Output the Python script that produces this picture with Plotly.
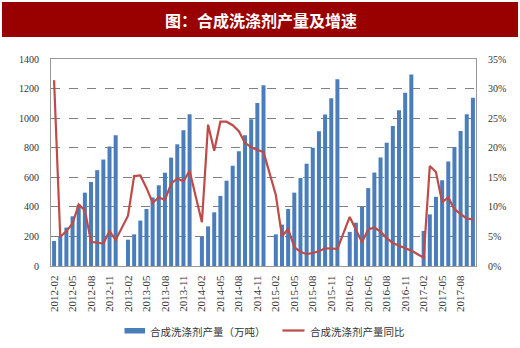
import plotly.graph_objects as go

# ---- data ----
years = [2012, 2013, 2014, 2015, 2016, 2017]
production = {  # 万吨, Feb..Dec (Jan not published)
    2012: [169, 198, 260, 336, 415, 496, 568, 648, 720, 808, 885],
    2013: [178, 214, 307, 386, 464, 546, 631, 733, 823, 918, 1026],
    2014: [196, 268, 363, 474, 577, 678, 776, 884, 992, 1103, 1222],
    2015: [214, 280, 386, 496, 595, 692, 800, 911, 1024, 1134, 1263],
    2016: [231, 293, 400, 527, 632, 734, 834, 947, 1054, 1171, 1296],
    2017: [237, 349, 468, 580, 707, 805, 913, 1026, 1138],
}
growth = {  # %, Feb..Dec
    2012: [31.4, 4.9, 5.9, 7.2, 10.4, 9.4, 4.1, 3.9, 3.8, 5.9, 4.4],
    2013: [8.5, 15.2, 15.3, 13.2, 10.7, 11.6, 11.2, 13.9, 14.8, 14.3, 16.1],
    2014: [7.4, 23.9, 19.5, 24.4, 24.4, 23.8, 22.8, 20.8, 20.1, 19.6, 19.3],
    2015: [12.0, 5.0, 6.3, 3.2, 2.4, 2.0, 2.2, 2.5, 3.0, 2.9, 2.9],
    2016: [8.3, 6.0, 4.0, 6.2, 6.5, 5.8, 4.7, 3.9, 3.4, 3.0, 2.6],
    2017: [1.4, 16.9, 15.9, 10.8, 11.6, 9.6, 8.8, 8.0, 7.9],
}

categories, prod_vals, growth_vals = [], [], []
for y in years:
    first = 1 if y == 2012 else 0  # series starts at 2012-02
    months = range(1, 13) if y < 2017 else range(1, 11)
    for m in months:
        if y == 2012 and m == 1:
            continue
        categories.append(f"{y}-{m:02d}")
        if m == 1:
            prod_vals.append(None)
            growth_vals.append(None)
        else:
            prod_vals.append(production[y][m - 2])
            growth_vals.append(growth[y][m - 2])

tick_labels = categories[::3]

BAR_NAME = "合成洗涤剂产量（万吨）"
LINE_NAME = "合成洗涤剂产量同比"
TITLE = "图：合成洗涤剂产量及增速"

W, H = 520, 348
L, R, T, B = 51, 44, 59, 82
PW, PH = W - L - R, H - T - B


def px(x):
    return (x - L) / PW


def py(y):
    return (H - B - y) / PH


fig = go.Figure()
fig.add_trace(go.Bar(x=categories, y=prod_vals, name=BAR_NAME,
                     marker=dict(color="#4a7ebb", line=dict(width=0)),
                     yaxis="y"))
fig.add_trace(go.Scatter(x=categories, y=growth_vals, name=LINE_NAME,
                         mode="lines", connectgaps=True,
                         line=dict(color="#be4b48", width=2.2),
                         yaxis="y2"))

tickfont = dict(family="Liberation Serif, Times New Roman, serif", size=10, color="#333333")

fig.update_layout(
    width=W, height=H,
    margin=dict(l=L, r=R, t=T, b=B),
    paper_bgcolor="white", plot_bgcolor="white",
    showlegend=False,
    bargap=0.35,
    xaxis=dict(type="category", tickmode="array", tickvals=tick_labels, ticktext=tick_labels,
               tickangle=-90, tickfont=dict(family="Liberation Serif, Times New Roman, serif",
                                            size=11, color="#333333"),
               showline=True, linecolor="#999999", linewidth=1, mirror=True,
               showgrid=False, ticks="", ticklabelstandoff=4, range=[-0.5, len(categories) - 0.5]),
    yaxis=dict(range=[0, 1400], dtick=200, tickfont=tickfont,
               showline=True, linecolor="#999999", linewidth=1, mirror=True,
               showgrid=True, gridcolor="#808080", griddash="dash", gridwidth=1,
               zeroline=False, ticks="", ticklabelstandoff=9),
    yaxis2=dict(range=[0, 35], dtick=5, ticksuffix="%", tickfont=tickfont,
                overlaying="y", side="right", showgrid=False, zeroline=False,
                showline=True, linecolor="#999999", linewidth=1,
                ticks="", ticklabelstandoff=9),
)

shapes = [
    dict(type="rect", xref="paper", yref="paper", x0=px(2), x1=px(518), y0=py(37), y1=py(2),
         fillcolor="#990000", line=dict(width=0), layer="below"),
    dict(type="rect", xref="paper", yref="paper", x0=px(124.5), x1=px(145), y0=py(333.5), y1=py(328),
         fillcolor="#4a7ebb", line=dict(width=0)),
    dict(type="line", xref="paper", yref="paper", x0=px(282.5), x1=px(304.5), y0=py(330.5), y1=py(330.5),
         line=dict(color="#be4b48", width=2.2)),
]
legfont = dict(family="Noto Sans CJK SC", size=10.5, color="#333333")
annotations = [
    dict(text=f"<b>{TITLE}</b>", xref="paper", yref="paper", x=px(261), y=py(20),
         showarrow=False, xanchor="center", yanchor="middle",
         font=dict(family="Noto Sans CJK SC", size=16, color="white")),
    dict(text=BAR_NAME, xref="paper", yref="paper", x=px(148), y=py(331),
         showarrow=False, xanchor="left", yanchor="middle", font=legfont),
    dict(text=LINE_NAME, xref="paper", yref="paper", x=px(307.5), y=py(331),
         showarrow=False, xanchor="left", yanchor="middle", font=legfont),
]
fig.update_layout(shapes=shapes, annotations=annotations)

fig.write_html("out.html")
